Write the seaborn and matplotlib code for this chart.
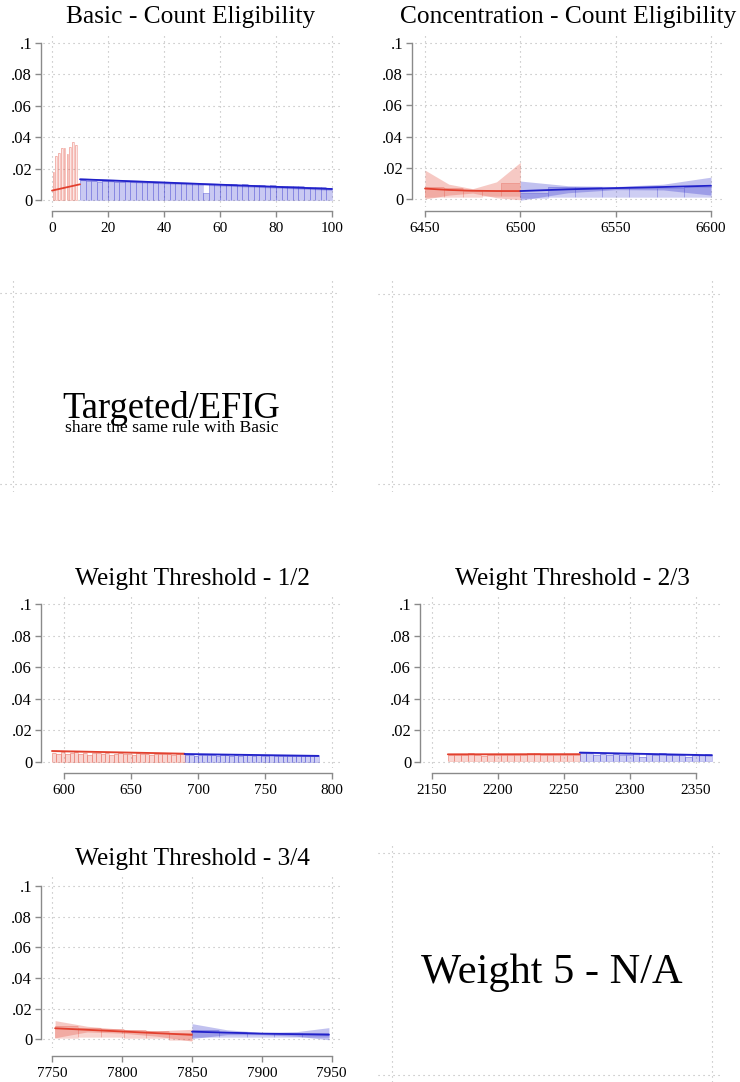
import matplotlib
matplotlib.use("Agg")
import matplotlib.pyplot as plt
import numpy as np
import pandas as pd
import seaborn as sns

# ------------------------------------------------------------------ data
y_ticks = [0, 0.02, 0.04, 0.06, 0.08, 0.1]
y_tick_labels = ["0", ".02", ".04", ".06", ".08", ".1"]

# Basic - Count Eligibility (cutoff at 10)
basic_xticks = [0, 20, 40, 60, 80, 100]
basic_l_edges = [0.2, 1.2, 2.2, 3.2, 4.2, 5.2, 6.2, 7.2, 8.2]
basic_l_width = 0.6
basic_l_lo = [0, 0, 0, 0, 0, 0, 0, 0, 0]
basic_l_hi = [0.018, 0.028, 0.030, 0.033, 0.033, 0.029, 0.034, 0.037, 0.035]
basic_l_fit_x = [0, 10]
basic_l_fit = [0.0060, 0.0100]
basic_r_edges = list(range(10, 100, 2))
basic_r_width = 2
basic_r_lo = [0] * 45
basic_r_hi = [0.0125, 0.0118, 0.0121, 0.0116, 0.0119, 0.0124, 0.0117, 0.0115, 0.0118, 0.0114,
              0.0116, 0.0112, 0.0115, 0.0110, 0.0113, 0.0109, 0.0111, 0.0108, 0.0110, 0.0106,
              0.0108, 0.0105, 0.0047, 0.0104, 0.0101, 0.0103, 0.0099, 0.0101, 0.0097, 0.0099,
              0.0095, 0.0097, 0.0093, 0.0092, 0.0094, 0.0090, 0.0089, 0.0091, 0.0087, 0.0086,
              0.0085, 0.0083, 0.0082, 0.0080, 0.0078]
basic_r_fit_x = [10, 55, 100]
basic_r_fit = [0.0132, 0.0101, 0.0070]
basic_r_band_lo = [0.0124, 0.0093, 0.0062]
basic_r_band_hi = [0.0140, 0.0109, 0.0078]

# Concentration - Count Eligibility (cutoff at 6500)
conc_xticks = [6450, 6500, 6550, 6600]
conc_l_edges = [6450, 6460, 6470, 6480, 6490]
conc_l_width = 10
conc_l_lo = [0.0015, 0.0012, 0.0015, 0.0018, 0.0020]
conc_l_hi = [0.0080, 0.0070, 0.0050, 0.0055, 0.0105]
conc_l_fit_x = [6450, 6462.5, 6475, 6487.5, 6500]
conc_l_fit = [0.0067, 0.0058, 0.0053, 0.0051, 0.0051]
conc_l_band_lo = [0.0000, 0.0025, 0.0038, 0.0008, -0.0005]
conc_l_band_hi = [0.0185, 0.0095, 0.0066, 0.0110, 0.0235]
conc_r_edges = [6500, 6514.29, 6528.57, 6542.86, 6557.14, 6571.43, 6585.71]
conc_r_width = 14.29
conc_r_lo = [0.0005, 0.0015, 0.0015, 0.0015, 0.0015, 0.0015, 0.0010]
conc_r_hi = [0.0040, 0.0080, 0.0078, 0.0072, 0.0068, 0.0068, 0.0075]
conc_r_fit_x = [6500, 6525, 6550, 6575, 6600]
conc_r_fit = [0.0051, 0.0062, 0.0070, 0.0077, 0.0085]
conc_r_band_lo = [-0.0008, 0.0040, 0.0060, 0.0058, 0.0025]
conc_r_band_hi = [0.0115, 0.0085, 0.0080, 0.0095, 0.0140]

# Weight Threshold - 1/2 (cutoff at 690)
wt12_xticks = [600, 650, 700, 750, 800]
wt12_l_edges = list(np.arange(591, 690, 3.3))[:30]
wt12_l_width = 3.3
wt12_l_lo = 0.0
wt12_l_hi = [0.0058, 0.0052, 0.0060, 0.0047, 0.0056, 0.0059, 0.0050, 0.0055, 0.0045, 0.0057,
             0.0058, 0.0049, 0.0054, 0.0044, 0.0052, 0.0055, 0.0047, 0.0050, 0.0042, 0.0053,
             0.0049, 0.0051, 0.0043, 0.0050, 0.0052, 0.0046, 0.0049, 0.0041, 0.0048, 0.0047]
wt12_l_fit_x = [591, 690]
wt12_l_fit = [0.0068, 0.0051]
wt12_l_band_lo = [0.0063, 0.0046]
wt12_l_band_hi = [0.0073, 0.0056]
wt12_r_edges = list(np.arange(690, 790, 10 / 3))[:30]
wt12_r_width = 10 / 3
wt12_r_lo = 0.0
wt12_r_hi = [0.0042, 0.0044, 0.0038, 0.0043, 0.0041, 0.0045, 0.0040, 0.0036, 0.0042, 0.0044,
             0.0039, 0.0041, 0.0037, 0.0043, 0.0040, 0.0038, 0.0041, 0.0035, 0.0039, 0.0040,
             0.0036, 0.0038, 0.0034, 0.0039, 0.0037, 0.0035, 0.0038, 0.0036, 0.0034, 0.0037]
wt12_r_fit_x = [690, 790]
wt12_r_fit = [0.0049, 0.0037]
wt12_r_band_lo = [0.0045, 0.0033]
wt12_r_band_hi = [0.0053, 0.0041]

# Weight Threshold - 2/3 (cutoff at 2262)
wt23_xticks = [2150, 2200, 2250, 2300, 2350]
wt23_l_edges = list(range(2162, 2262, 5))
wt23_l_width = 5
wt23_l_lo = 0.0005
wt23_l_hi = [0.0040, 0.0042, 0.0041, 0.0055, 0.0040, 0.0039, 0.0042, 0.0041, 0.0040, 0.0043,
             0.0041, 0.0040, 0.0056, 0.0054, 0.0041, 0.0040, 0.0043, 0.0041, 0.0042, 0.0040]
wt23_l_fit_x = [2162, 2262]
wt23_l_fit = [0.0047, 0.0048]
wt23_l_band_lo = [0.0043, 0.0044]
wt23_l_band_hi = [0.0051, 0.0052]
wt23_r_edges = list(range(2262, 2362, 5))
wt23_r_width = 5
wt23_r_lo = 0.0005
wt23_r_hi = [0.0058, 0.0056, 0.0045, 0.0047, 0.0044, 0.0046, 0.0045, 0.0043, 0.0057, 0.0032,
             0.0046, 0.0044, 0.0055, 0.0043, 0.0045, 0.0042, 0.0030, 0.0044, 0.0043, 0.0052]
wt23_r_fit_x = [2262, 2362]
wt23_r_fit = [0.0058, 0.0041]
wt23_r_band_lo = [0.0053, 0.0036]
wt23_r_band_hi = [0.0063, 0.0046]

# Weight Threshold - 3/4 (cutoff at 7850)
wt34_xticks = [7750, 7800, 7850, 7900, 7950]
wt34_l_edges = [7752, 7768.33, 7784.67, 7801, 7817.33, 7833.67]
wt34_l_width = 16.33
wt34_l_lo = [0.0010, 0.0012, 0.0012, 0.0010, 0.0008, -0.0004]
wt34_l_hi = [0.0087, 0.0072, 0.0066, 0.0060, 0.0052, 0.0042]
wt34_l_fit_x = [7752, 7850]
wt34_l_fit = [0.0072, 0.0029]
wt34_l_band_x = [7752, 7775, 7800, 7825, 7850]
wt34_l_band_lo = [0.0010, 0.0048, 0.0040, 0.0020, -0.0012]
wt34_l_band_hi = [0.0122, 0.0085, 0.0065, 0.0055, 0.0065]
wt34_r_edges = [7850, 7869.6, 7889.2, 7908.8, 7928.4]
wt34_r_width = 19.6
wt34_r_lo = [0.0015, 0.0015, 0.0012, 0.0012, 0.0012]
wt34_r_hi = [0.0060, 0.0050, 0.0042, 0.0038, 0.0038]
wt34_r_fit_x = [7850, 7900, 7948]
wt34_r_fit = [0.0050, 0.0037, 0.0030]
wt34_r_band_x = [7850, 7875, 7900, 7925, 7948]
wt34_r_band_lo = [0.0005, 0.0030, 0.0030, 0.0020, -0.0003]
wt34_r_band_hi = [0.0102, 0.0062, 0.0045, 0.0050, 0.0076]

# ------------------------------------------------------------------ style
W, H = 740, 1082
RED = "#e2402e"
BLUE = "#2121c9"
GRID = "#b4b4b4"
AXIS = "#8a8a8a"

sns.set_theme(style="white")
plt.rcParams["font.family"] = ["Liberation Serif", "DejaVu Serif"]
plt.rcParams["axes.unicode_minus"] = False
plt.rcParams["text.color"] = "black"
plt.rcParams["xtick.labelcolor"] = "black"
plt.rcParams["ytick.labelcolor"] = "black"

fig = plt.figure(figsize=(W / 100, H / 100), dpi=100)
PX = 72 / 100  # points per pixel


def add_axes_px(left, top, right, bottom):
    return fig.add_axes([left / W, 1 - bottom / H, (right - left) / W, (bottom - top) / H])


def bins(ax, edges, width, lo, hi, color, fill_alpha=0.22, edge_alpha=0.28):
    lo_arr = np.broadcast_to(np.asarray(lo, dtype=float), (len(hi),))
    hi_arr = np.asarray(hi, dtype=float)
    ax.bar(edges, hi_arr - lo_arr, bottom=lo_arr, width=width, align="edge",
           color=color, alpha=fill_alpha, edgecolor="none", linewidth=0, zorder=2)
    ax.bar(edges, hi_arr - lo_arr, bottom=lo_arr, width=width, align="edge",
           facecolor="none", edgecolor=color, alpha=edge_alpha, linewidth=0.7, zorder=2)


def band(ax, x, lo, hi, color):
    ax.fill_between(x, lo, hi, color=color, alpha=0.28, linewidth=0, zorder=3)


def fit(ax, x, y, color):
    sns.lineplot(x=x, y=y, ax=ax, color=color, linewidth=1.3, zorder=4,
                 estimator=None, sort=False)


def frame(ax, region, xticks, x_first_px, x_last_px, y0_px, y1_px, spine_x, axis_y):
    left, top, right, bottom = region
    xa, xb = xticks[0], xticks[-1]
    sx = (x_last_px - x_first_px) / (xb - xa)
    ax.set_xlim(xa - (x_first_px - left) / sx, xb + (right - x_last_px) / sx)
    sy = (y0_px - y1_px) / 0.1
    ax.set_ylim(-(bottom - y0_px) / sy, 0.1 + (y1_px - top) / sy)
    ax.set_xticks(xticks)
    ax.set_xticklabels([str(t) for t in xticks])
    ax.set_yticks(y_ticks)
    ax.set_yticklabels(y_tick_labels)
    ax.set_facecolor("none")
    for s in ("top", "right"):
        ax.spines[s].set_visible(False)
    ax.spines["left"].set_bounds(0, 0.1)
    ax.spines["bottom"].set_bounds(xa, xb)
    ax.spines["left"].set_position(("outward", (left - spine_x) * PX))
    ax.spines["bottom"].set_position(("outward", (axis_y - bottom) * PX))
    for s in ("left", "bottom"):
        ax.spines[s].set_color(AXIS)
        ax.spines[s].set_linewidth(1.0)
    ax.tick_params(axis="y", length=6 * PX, width=1.0, color=AXIS, pad=2,
                   labelsize=12, labelcolor="black", left=True, direction="out")
    ax.tick_params(axis="x", length=6 * PX, width=1.0, color=AXIS, pad=3.5,
                   labelsize=11, labelcolor="black", bottom=True, direction="out")
    ax.grid(True, linestyle=(0, (1, 3.5)), color=GRID, linewidth=0.8, zorder=0)
    ax.set_axisbelow(True)
    ax.set_xlabel("")
    ax.set_ylabel("")


def blank(region, gx0, gx1, gy0, gy1):
    left, top, right, bottom = region
    ax = add_axes_px(left, top, right, bottom)
    sx = gx1 - gx0
    ax.set_xlim(-(gx0 - left) / sx, 1 + (right - gx1) / sx)
    sy = gy1 - gy0
    ax.set_ylim(-(bottom - gy1) / sy, 1 + (gy0 - top) / sy)
    ax.set_xticks([0, 1])
    ax.set_yticks([0, 1])
    ax.tick_params(length=0, labelbottom=False, labelleft=False)
    for s in ax.spines.values():
        s.set_visible(False)
    ax.set_facecolor("none")
    ax.grid(True, linestyle=(0, (1, 3.5)), color=GRID, linewidth=0.8)
    return ax


def title(x, y, text):
    fig.text(x / W, 1 - y / H, text, ha="center", va="baseline", fontsize=18.3, color="black")


# ------------------------------------------------------------------ Basic
ax = add_axes_px(43, 32, 340, 207)
bins(ax, basic_l_edges, basic_l_width, basic_l_lo, basic_l_hi, RED, fill_alpha=0.12, edge_alpha=0.3)
fit(ax, basic_l_fit_x, basic_l_fit, RED)
bins(ax, basic_r_edges, basic_r_width, basic_r_lo, basic_r_hi, BLUE, fill_alpha=0.24, edge_alpha=0.22)
band(ax, basic_r_fit_x, basic_r_band_lo, basic_r_band_hi, BLUE)
fit(ax, basic_r_fit_x, basic_r_fit, BLUE)
frame(ax, (43, 32, 340, 207), basic_xticks, 52, 332, 200, 43, 41, 211)
title(191, 23, "Basic - Count Eligibility")

# ------------------------------------------------------------------ Concentration
ax = add_axes_px(415, 32, 722, 207)
bins(ax, conc_l_edges, conc_l_width, conc_l_lo, conc_l_hi, RED, edge_alpha=0.15)
band(ax, conc_l_fit_x, conc_l_band_lo, conc_l_band_hi, RED)
fit(ax, conc_l_fit_x, conc_l_fit, RED)
bins(ax, conc_r_edges, conc_r_width, conc_r_lo, conc_r_hi, BLUE, edge_alpha=0.15)
band(ax, conc_r_fit_x, conc_r_band_lo, conc_r_band_hi, BLUE)
fit(ax, conc_r_fit_x, conc_r_fit, BLUE)
frame(ax, (415, 32, 722, 207), conc_xticks, 425, 711, 199, 43, 412, 211)
title(568, 23, "Concentration - Count Eligibility")

# ------------------------------------------------------------------ Targeted / EFIG
blank((0, 278, 340, 492), 13, 332, 293, 484)
fig.text(171 / W, 1 - 418 / H, "Targeted/EFIG", ha="center", va="baseline", fontsize=26.3,
         color="black")
fig.text(172 / W, 1 - 432 / H, "share the same rule with Basic", ha="center", va="baseline",
         fontsize=12.6, color="black")
blank((378, 277, 722, 492), 392, 712, 294, 484)

# ------------------------------------------------------------------ Weight Threshold - 1/2
ax = add_axes_px(43, 593, 340, 768)
bins(ax, wt12_l_edges, wt12_l_width, wt12_l_lo, wt12_l_hi, RED)
band(ax, wt12_l_fit_x, wt12_l_band_lo, wt12_l_band_hi, RED)
fit(ax, wt12_l_fit_x, wt12_l_fit, RED)
bins(ax, wt12_r_edges, wt12_r_width, wt12_r_lo, wt12_r_hi, BLUE)
band(ax, wt12_r_fit_x, wt12_r_band_lo, wt12_r_band_hi, BLUE)
fit(ax, wt12_r_fit_x, wt12_r_fit, BLUE)
frame(ax, (43, 593, 340, 768), wt12_xticks, 64, 332, 761.7, 604.3, 41, 773)
title(192, 585, "Weight Threshold - 1/2")

# ------------------------------------------------------------------ Weight Threshold - 2/3
ax = add_axes_px(423, 593, 722, 768)
bins(ax, wt23_l_edges, wt23_l_width, wt23_l_lo, wt23_l_hi, RED)
band(ax, wt23_l_fit_x, wt23_l_band_lo, wt23_l_band_hi, RED)
fit(ax, wt23_l_fit_x, wt23_l_fit, RED)
bins(ax, wt23_r_edges, wt23_r_width, wt23_r_lo, wt23_r_hi, BLUE)
band(ax, wt23_r_fit_x, wt23_r_band_lo, wt23_r_band_hi, BLUE)
fit(ax, wt23_r_fit_x, wt23_r_fit, BLUE)
frame(ax, (423, 593, 722, 768), wt23_xticks, 432, 696, 761.7, 604.3, 420, 773)
title(572, 585, "Weight Threshold - 2/3")

# ------------------------------------------------------------------ Weight Threshold - 3/4
ax = add_axes_px(43, 875, 340, 1048)
bins(ax, wt34_l_edges, wt34_l_width, wt34_l_lo, wt34_l_hi, RED, edge_alpha=0.15)
band(ax, wt34_l_band_x, wt34_l_band_lo, wt34_l_band_hi, RED)
fit(ax, wt34_l_fit_x, wt34_l_fit, RED)
bins(ax, wt34_r_edges, wt34_r_width, wt34_r_lo, wt34_r_hi, BLUE, edge_alpha=0.15)
band(ax, wt34_r_band_x, wt34_r_band_lo, wt34_r_band_hi, BLUE)
fit(ax, wt34_r_fit_x, wt34_r_fit, BLUE)
frame(ax, (43, 875, 340, 1048), wt34_xticks, 52.3, 331.7, 1039.3, 886, 41, 1056)
title(192, 865, "Weight Threshold - 3/4")

# ------------------------------------------------------------------ Weight 5
blank((378, 842, 720, 1082), 392, 712, 853, 1075)
fig.text(552 / W, 1 - 983 / H, "Weight 5 - N/A", ha="center", va="baseline", fontsize=30.5,
         color="black")

fig.savefig("out.png", dpi=100)
